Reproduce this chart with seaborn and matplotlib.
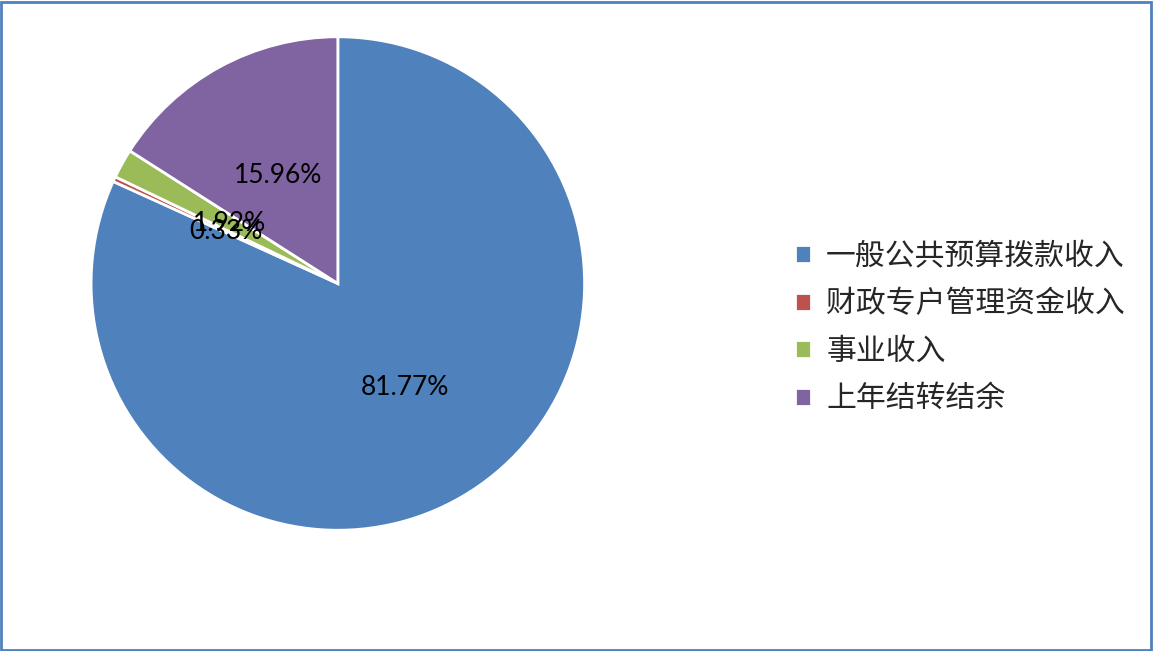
import matplotlib
matplotlib.use("Agg")
import matplotlib.pyplot as plt
import seaborn as sns
from matplotlib.patches import Rectangle

# data
categories = ['一般公共预算拨款收入', '财政专户管理资金收入', '事业收入', '上年结转结余']
shares = [81.77, 0.33, 1.92, 15.96]
pct_labels = ['81.77%', '0.33%', '1.92%', '15.96%']
colors = ['#4F81BD', '#C0504D', '#9BBB59', '#8064A2']

sns.set_theme(style="white")
plt.rcParams['font.family'] = ['Noto Sans CJK SC', 'DejaVu Sans']

fig = plt.figure(figsize=(11.53, 6.51), dpi=100)
ax = fig.add_axes([0.079, 0.185, 0.428, 0.759])

lab_iter = iter(pct_labels)
wedges, texts, autotexts = ax.pie(
    shares, colors=colors, startangle=90, counterclock=False,
    autopct=lambda p: next(lab_iter), pctdistance=0.5,
    wedgeprops=dict(edgecolor='white', linewidth=2),
    textprops=dict(fontsize=19, color='black', family=['Lato', 'DejaVu Sans']))
ax.set_xlim(-1, 1)
ax.set_ylim(-1, 1)
ax.set_aspect('equal')

leg = fig.legend(wedges, categories, loc='center left', bbox_to_anchor=(0.666, 0.497),
                 frameon=False, fontsize=21.5, handlelength=0.55, handleheight=0.55,
                 handletextpad=0.5, labelspacing=0.55)

# outer border
fig.patches.append(Rectangle((0.001, 0.002), 0.997, 0.995, transform=fig.transFigure,
                             fill=False, edgecolor='#4F81BD', linewidth=2))

fig.savefig('out.png', dpi=100)
